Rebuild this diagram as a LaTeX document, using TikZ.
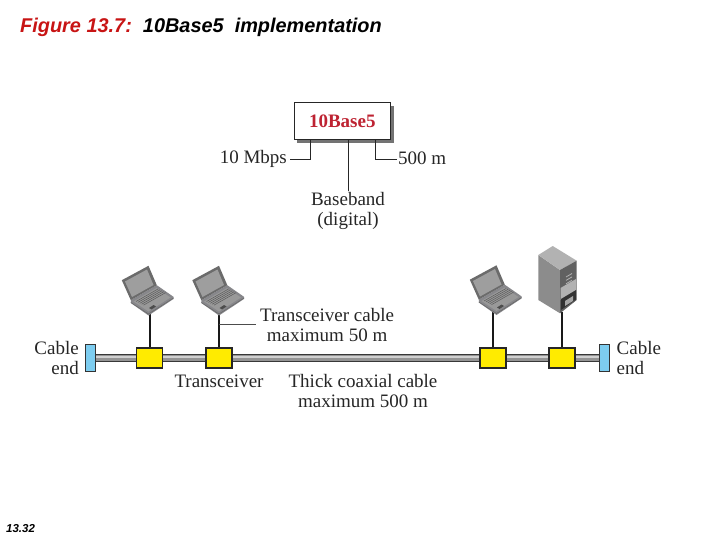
\documentclass[tikz,border=0pt]{standalone}
\usepackage{fontspec}
\setmainfont{Liberation Serif}
\newfontfamily\arialf{Liberation Sans}
\definecolor{figred}{RGB}{200,20,20}
\definecolor{boxred}{RGB}{190,35,50}
\definecolor{yel}{RGB}{255,235,0}
\definecolor{endblue}{RGB}{125,205,240}
\definecolor{lapgray}{RGB}{150,150,155}
\tikzset{
  lbl/.style={font=\fontsize{19}{20}\selectfont, align=center, inner sep=0pt, text=black!85},
  wire/.style={line width=1.1pt, draw=black!85},
  thin wire/.style={line width=1pt, draw=black!70},
  drop/.style={line width=1.6pt, draw=black!90},
  xcvr/.style={draw=black!85, line width=1.9pt, fill=yel, minimum width=26pt, minimum height=20pt, inner sep=0pt},
  endcap/.style={draw=black!80, line width=1pt, fill=endblue, minimum width=10pt, minimum height=27pt, inner sep=0pt},
  laptop/.pic={
    \fill[lapgray!90!black] (-17.7,-13.3) -- (8.3,-28.3) -- (25,-16.7) -- (25,-14.5) -- (0,2) -- (-17.7,-10.5) -- cycle;
    \fill[black!58] (-26.7,-33.3) -- (0,-47.7) -- (8.3,-28.3) -- (-17.7,-13.3) -- cycle;
    \fill[black!38] (-23.5,-32) -- (-1.5,-44) -- (5,-28.5) -- (-16.5,-16.5) -- cycle;
    \fill[black!40] (-15,-12) -- (8,-25.5) -- (22,-16) -- (0,-2) -- cycle;
    \foreach \i in {0,...,4}{
      \draw[black!65,line width=0.5pt] ({-12.5+\i*1.9},{-12-\i*0.3+\i*1.2}) -- ({9.5+\i*1.9},{-24.5-\i*0.3+\i*1.2});
    }
    \fill[black!70] (0.5,-5.5) -- (5,-8.5) -- (7.5,-7) -- (3,-4) -- cycle;
    \draw[black!60,line width=0.5pt] (-17.7,-11) -- (0,0.5) -- (25,-15.5);
  }
}
\begin{document}
\begin{tikzpicture}[x=1pt,y=-1pt]
\useasboundingbox (0,0) rectangle (720,540);
\fill[white] (0,0) rectangle (720,540);

% title and footer
\node[anchor=base west,inner sep=0pt,font=\arialf\bfseries\itshape\fontsize{19.9}{21}\selectfont] (title) at (20,33)
  {\textcolor{figred}{Figure 13.7:}\ \ 10Base5\ \ implementation};
\node[anchor=west,inner sep=0pt,font=\arialf\bfseries\itshape\fontsize{11.5}{12}\selectfont] (foot) at (6,529) {13.32};

% 10Base5 box
\fill[black!55] (297,106) rectangle (393.5,143);
\node[draw=black!85,line width=1pt,fill=white,minimum width=96.5pt,minimum height=37pt,inner sep=0pt,
  text=boxred,font=\fontsize{19}{20}\selectfont\bfseries] (base) at (342.3,121.3) {10Base5};
\node[lbl,anchor=east] (mbps) at (287,158.5) {10 Mbps};
\node[lbl,anchor=west] (dist) at (398,158.5) {500 m};
\node[lbl,anchor=north] (band) at (348,192) {Baseband\\(digital)};
\draw[wire] (310.5,140) |- (290,159.5);
\draw[wire] (375.5,140) |- (396.5,159.5);
\draw[wire] (348.5,140) -- (348.5,191.5);

% cable
\coordinate (cl) at (96,358);
\coordinate (cr) at (599,358);
\fill[black!78] (96,354) rectangle (599,362);
\fill[black!42] (96,355) rectangle (599,361);
\fill[black!18] (96,356) rectangle (599,358.4);

\node[endcap] (e1) at (90.6,357.7) {};
\node[endcap] (e2) at (604.2,357.7) {};
\node[xcvr] (t1) at (149.5,358) {};
\node[xcvr] (t2) at (219,358) {};
\node[xcvr] (t3) at (493,358) {};
\node[xcvr] (t4) at (562,358) {};

% connectors first, stations on top of their upper ends
\coordinate (l1) at (149.8,312);
\coordinate (l2) at (219,312);
\coordinate (l3) at (493,311);
\coordinate (s1) at (562,312);
\draw[drop] (l1) -- (t1.north -| l1);
\draw[drop] (l2) -- (t2.north);
\draw[drop] (l3) -- (t3.north);
\draw[drop] (s1) -- (t4.north);

% stations
\pic at (148.5,313.5) {laptop};
\pic at (219,313.5) {laptop};
\pic at (496.5,313) {laptop};
% server
\fill[black!45] (538.3,255) -- (560,270) -- (560,313.3) -- (538.3,300) -- cycle;
\fill[black!30] (538.3,255) -- (552.7,246) -- (576.7,260.7) -- (560,270) -- cycle;
\fill[black!62] (560,270) -- (576.7,260.7) -- (576.7,300) -- (560,313.3) -- cycle;
\fill[black!30] (560.5,288) -- (576,279) -- (576,292) -- (560.5,300) -- cycle;
\fill[black!80] (561,299) -- (576,290) -- (576,299.5) -- (561,310) -- cycle;
\fill[black!35] (565,301) -- (573,296) -- (573,301) -- (565,306) -- cycle;
\foreach \i in {0,...,4}{
  \draw[black!30,line width=0.8pt] (566,{277+\i*3.4-0}) -- (572,{273.5+\i*3.4});
}

% labels
\node[lbl,align=right,anchor=east] (ce1) at (79,357.5) {Cable\\end};
\node[lbl,align=left,anchor=west] (ce2) at (616.5,357.5) {Cable\\end};
\node[lbl,anchor=west] (tc) at (260,324.5) {Transceiver cable\\maximum 50 m};
\node[lbl] (tr) at (219,381) {Transceiver};
\node[lbl] (coax) at (363,391) {Thick coaxial cable\\maximum 500 m};
\coordinate (tap) at (219,324.5);
\draw[thin wire] (tap) -- (256,324.5);
\end{tikzpicture}
\end{document}
